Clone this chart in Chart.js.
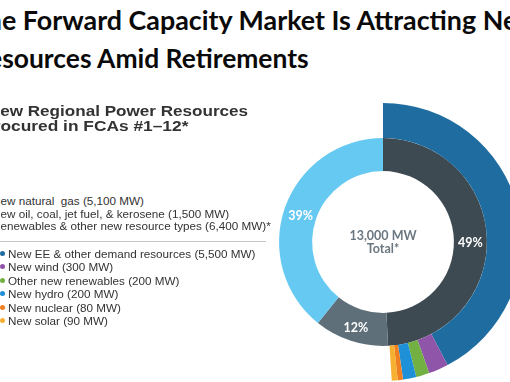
<!DOCTYPE html>
<html>
<head>
<meta charset="utf-8">
<script src="https://cdn.jsdelivr.net/npm/chart.js@4.4.0/dist/chart.umd.min.js"></script>
<style>
    html, body { margin: 0; padding: 0; background: #fff; }
    body { width: 510px; height: 382px; overflow: hidden; position: relative; font-family: 'Liberation Sans', Arial, sans-serif; }
    .title { position: absolute; font-family: Lato, sans-serif; font-weight: 700; color: #0a0a0a; white-space: nowrap; line-height: normal; }
    .subtitle { position: absolute; font-weight: 700; color: #333; white-space: nowrap; font-size: 15.5px; line-height: normal; }
    .leg { position: absolute; font-size: 11.7px; color: #333; white-space: pre; line-height: normal; }
    .dot { position: absolute; width: 5px; height: 5px; border-radius: 50%; }
    .rule { position: absolute; left: 0; width: 266px; top: 241px; height: 1px; background: #c4c4c4; }
    #wrap { position: absolute; left: 244px; top: 103px; width: 278px; height: 278px; }
</style>
</head>
<body>
<div id="wrap"><canvas id="fca" width="278" height="278"></canvas></div>
<div class="rule"></div>
<script>
// New regional power resources procured in FCAs #1-12 (MW)
const mainLabels = ['New natural  gas', 'New oil, coal, jet fuel, & kerosene', 'Renewables & other new resource types'];
const mainValues = [5100, 1500, 6400];
const mainColors = ['#66c9f2', '#5f6f7a', '#3e4a52'];

const subLabels = ['New EE & other demand resources', 'New wind', 'Other new renewables', 'New hydro', 'New nuclear', 'New solar'];
const subValues = [5500, 300, 200, 200, 80, 90];
const subColors = ['#1f6da0', '#8e55a8', '#72b043', '#1e90d8', '#f07f20', '#f7b030'];

const titleLines = ['The Forward Capacity Market Is Attracting New', 'Resources Amid Retirements'];
const subtitleLines = ['New Regional Power Resources', 'Procured in FCAs #1\u201312*'];
const centerText = ['13,000 MW', 'Total*'];

function fmtMW(v) {
    return '(' + v.toLocaleString('en-US') + ' MW)';
}

// put a line so that the part after `hidden` starts at visibleX
// (the slide is cropped on the left, so the start of some lines is off-page)
function addLine(cls, hidden, rest, visibleX, baseline, ascent, fontSize, fitWidth) {
    const el = document.createElement('div');
    el.className = cls;
    if (fontSize) el.style.fontSize = fontSize + 'px';
    const h = document.createElement('span');
    h.textContent = hidden;
    const r = document.createElement('span');
    r.textContent = rest;
    el.appendChild(h);
    el.appendChild(r);
    document.body.appendChild(el);
    const fs = parseFloat(getComputedStyle(el).fontSize);
    el.style.left = (visibleX - h.offsetWidth) + 'px';
    el.style.top = (baseline - ascent * fs) + 'px';
    if (fitWidth) {
        el.style.transformOrigin = h.offsetWidth + 'px 50%';
        el.style.transform = 'scaleX(' + (fitWidth / r.offsetWidth) + ')';
    }
    return { el: el, rest: r };
}

// title, sized so the second line fits the width in the slide
(function () {
    let t2 = addLine('title', 'Re', titleLines[1].slice(2), 2, 68, 0.987, 24);
    const fs = 24 * 306 / t2.rest.offsetWidth;
    t2.el.remove();
    const t1 = addLine('title', 'Th', titleLines[0].slice(2), 2, 30, 0.987, fs);
    t1.el.style.transformOrigin = '0 50%';
    t1.el.style.transform = 'scaleX(1.016)';
    addLine('title', 'Re', titleLines[1].slice(2), 2, 68, 0.987, fs);
})();

addLine('subtitle', 'N', subtitleLines[0].slice(1), 0, 116, 0.905, null, 248);
addLine('subtitle', 'Pr', subtitleLines[1].slice(2), 0, 131, 0.905, null, 188);

const mainBase = [205, 218, 230];
mainLabels.forEach(function (lab, i) {
    const txt = lab + ' ' + fmtMW(mainValues[i]) + (i === 2 ? '*' : '');
    addLine('leg', txt.charAt(0), txt.slice(1), 0, mainBase[i], 0.905);
});

subLabels.forEach(function (lab, i) {
    const base = 257.3 + i * 13.45;
    addLine('leg', '', lab + ' ' + fmtMW(subValues[i]), 8, base, 0.905);
    const d = document.createElement('div');
    d.className = 'dot';
    d.style.background = subColors[i];
    d.style.left = '0px';
    d.style.top = (base - 6.5) + 'px';
    document.body.appendChild(d);
});

// chart
const total = mainValues.reduce(function (a, b) { return a + b; }, 0);
const subTotal = subValues.reduce(function (a, b) { return a + b; }, 0);
// inner ring is drawn clockwise from the top: renewables, oil..., gas
const ringValues = mainValues.slice().reverse();
const ringColors = mainColors.slice().reverse();

const labelPlugin = {
    id: 'fcaLabels',
    afterDatasetsDraw: function (chart) {
        const ctx = chart.ctx;
        const meta = chart.getDatasetMeta(1);
        ctx.save();
        ctx.textAlign = 'center';
        ctx.textBaseline = 'middle';
        ctx.font = 'bold 12.5px Lato, sans-serif';
        ctx.fillStyle = '#ffffff';
        meta.data.forEach(function (arc, i) {
            const p = arc.tooltipPosition();
            ctx.fillText(Math.round(ringValues[i] / total * 100) + '%', p.x, p.y + 3);
        });
        const arc0 = meta.data[0];
        ctx.fillStyle = '#6b7780';
        ctx.font = 'bold 12.5px Lato, sans-serif';
        ctx.fillText(centerText[0], arc0.x, arc0.y - 6);
        ctx.fillText(centerText[1], arc0.x, arc0.y + 7);
        ctx.restore();
    }
};

new Chart(document.getElementById('fca'), {
    type: 'doughnut',
    data: {
        labels: subLabels.concat(['']),
        datasets: [{
            data: subValues.concat([total - subTotal]),
            backgroundColor: subColors.concat(['rgba(0,0,0,0)']),
            borderWidth: 0,
            weight: 35
        }, {
            data: ringValues,
            backgroundColor: ringColors,
            borderWidth: 0,
            weight: 33
        }]
    },
    options: {
        responsive: false,
        animation: false,
        cutout: '51%',
        hoverOffset: 0,
        offset: 0,
        layout: { padding: 0 },
        plugins: {
            legend: { display: false },
            tooltip: { enabled: false }
        }
    },
    plugins: [labelPlugin]
});
</script>
</body>
</html>
